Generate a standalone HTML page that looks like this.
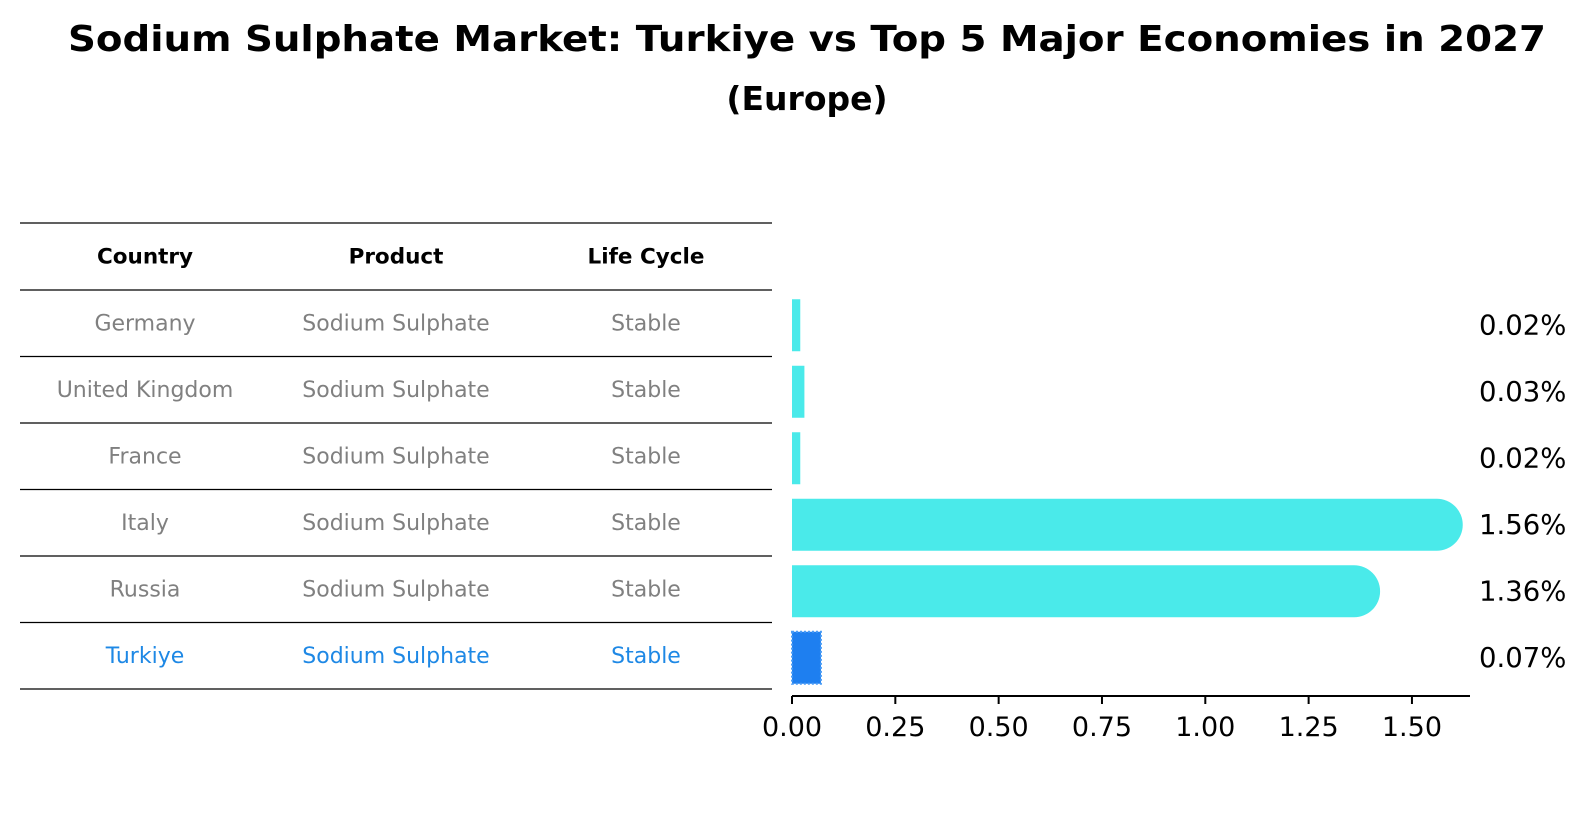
<!DOCTYPE html>
<html><head><meta charset="utf-8"><style>
body{margin:0;background:#fff}
svg{display:block;font-family:"DejaVu Sans","Liberation Sans",sans-serif}
</style></head><body>
<svg id="chart" width="1586" height="823" viewBox="0 0 1586 823" xmlns="http://www.w3.org/2000/svg">
<text x="807" y="51" text-anchor="middle" font-weight="bold" font-size="36" textLength="1478" lengthAdjust="spacingAndGlyphs">Sodium Sulphate Market: Turkiye vs Top 5 Major Economies in 2027</text>
<text x="807" y="110" text-anchor="middle" font-weight="bold" font-size="33">(Europe)</text>
<g id="table"></g>
<g id="bars"></g>
</svg>
<script>
const countries=["Germany","United Kingdom","France","Italy","Russia","Turkiye"];
const products=["Sodium Sulphate","Sodium Sulphate","Sodium Sulphate","Sodium Sulphate","Sodium Sulphate","Sodium Sulphate"];
const lifeCycles=["Stable","Stable","Stable","Stable","Stable","Stable"];
const values=[0.02,0.03,0.02,1.56,1.36,0.07];
const valueLabels=["0.02%","0.03%","0.02%","1.56%","1.36%","0.07%"];
const ticks=[0,0.25,0.5,0.75,1.0,1.25,1.5];
const tickLabels=["0.00","0.25","0.50","0.75","1.00","1.25","1.50"];

const NS="http://www.w3.org/2000/svg";
function mk(tag,attrs,parent){const e=document.createElementNS(NS,tag);for(const k in attrs)e.setAttribute(k,attrs[k]);parent.appendChild(e);return e;}
const table=document.getElementById('table'),bars=document.getElementById('bars');
const rowH=66.5, headTop=223, headH=67, firstRow=290;
const colX=[145,396,646];
const rowCenter=i=>firstRow+rowH*(i+0.5);
const lineYs=[headTop,firstRow];for(let i=1;i<=countries.length;i++)lineYs.push(firstRow+rowH*i);
lineYs.forEach(y=>{const l=mk('line',{x1:20,x2:772,y1:y,y2:y,stroke:'#000','stroke-width':1.3},table);

});
["Country","Product","Life Cycle"].forEach((h,j)=>{const t=mk('text',{x:colX[j],y:headTop+headH/2+7,'text-anchor':'middle','font-weight':'bold','font-size':21.5},table);t.textContent=h;

});
countries.forEach((c,i)=>{const col=i===countries.length-1?'#1e88e5':'#808080';
[c,products[i],lifeCycles[i]].forEach((v,j)=>{const t=mk('text',{x:colX[j],y:rowCenter(i)+7,'text-anchor':'middle','font-size':22,fill:col},table);t.textContent=v;

});});
const x0=792, scale=413.3, axisY=696, axisEnd=1470, bh=52, r=26;
const xs=v=>x0+v*scale;
const ax=mk('line',{x1:x0,x2:axisEnd,y1:axisY,y2:axisY,stroke:'#000','stroke-width':2},bars);


ticks.forEach((t,i)=>{const x=xs(t);
const tl=mk('line',{x1:x,x2:x,y1:axisY,y2:axisY+8,stroke:'#000','stroke-width':2},bars);


const tx=mk('text',{x:x,y:axisY+40,'text-anchor':'middle','font-size':27},bars);tx.textContent=tickLabels[i];

});
values.forEach((v,i)=>{const cy=rowCenter(i)+2, y=cy-bh/2, w=v*scale;let el;
if(i===values.length-1){el=mk('rect',{x:x0,y:y,width:w,height:bh,fill:'#1e7ff0',stroke:'#4a9cf5','stroke-width':2,'stroke-dasharray':'2 2'},bars);}
else if(w>bh){el=mk('path',{d:`M${x0},${y}H${x0+w}A${r},${r} 0 0 1 ${x0+w},${y+bh}H${x0}Z`,fill:'#4aeaea'},bars);}
else{el=mk('rect',{x:x0,y:y,width:w,height:bh,fill:'#4aeaea'},bars);}


const t=mk('text',{x:1479,y:cy+9,'font-size':27.5},bars);t.textContent=valueLabels[i];

});
</script>
</body></html>
